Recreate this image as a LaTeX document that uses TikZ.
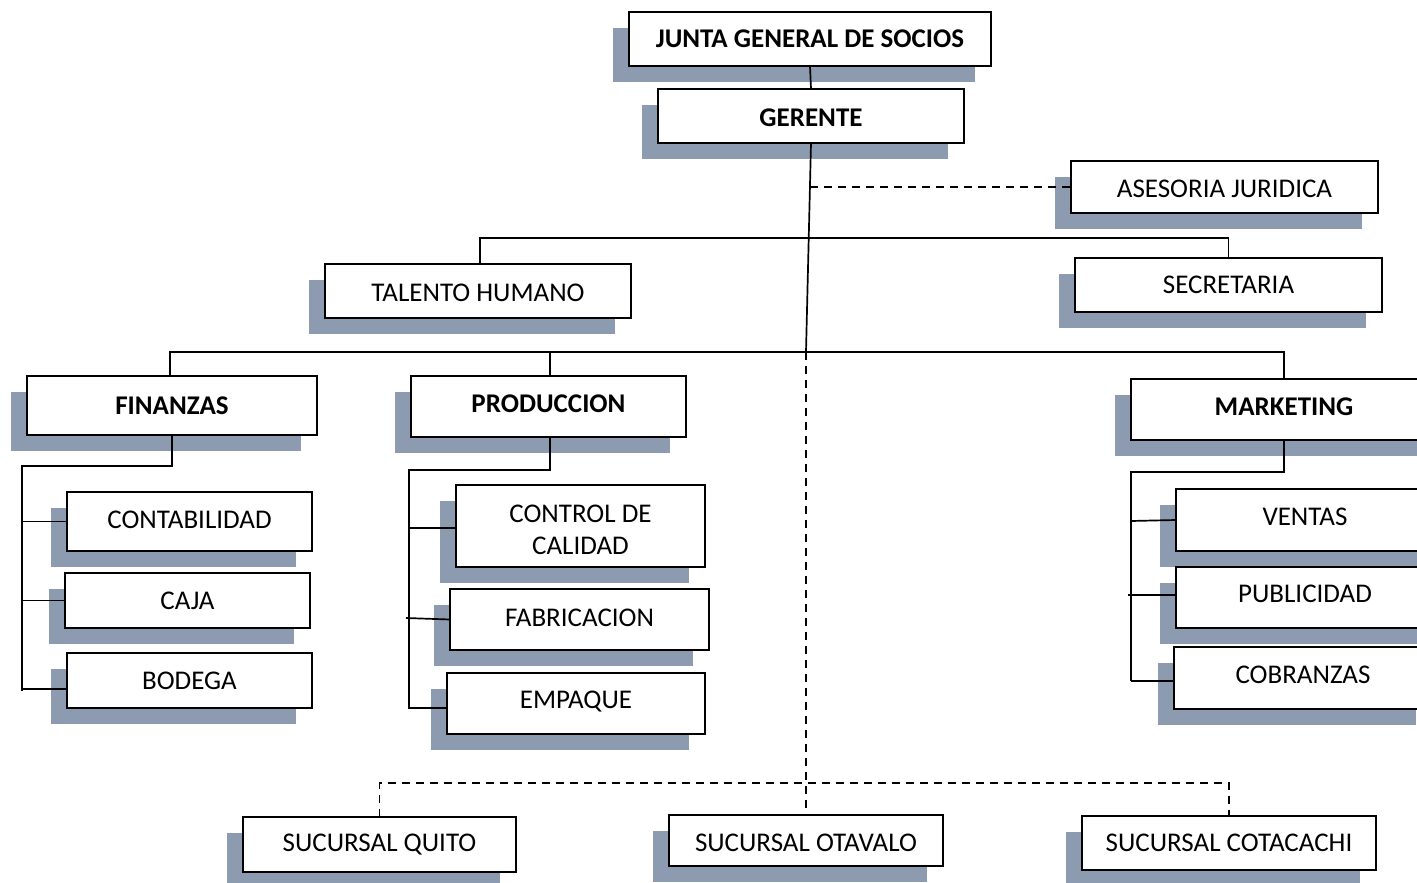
\documentclass[tikz,border=0pt]{standalone}
\usepackage{fontspec}
\setmainfont{Carlito}
\usetikzlibrary{shadows}
\definecolor{shadowc}{RGB}{141,155,176}
% move a label up or down inside its box without changing the box size
\newcommand\txtshift[2]{\raisebox{#1}[\height][\depth]{#2}}
\tikzset{
  box/.style={draw, line width=1.8pt, fill=white, inner sep=0pt, outer sep=0pt,
    align=center, font=\fontsize{27}{32}\selectfont,
    general shadow={fill=shadowc, draw=none, shadow xshift=-16pt, shadow yshift=-16pt}},
  head/.style={box, font=\fontsize{27}{32}\selectfont\bfseries},
  link/.style={line width=1.7pt},
  dashlink/.style={line width=1.7pt, dash pattern=on 8pt off 6pt},
}
\begin{document}
\begin{tikzpicture}[x=1pt, y=-1pt]
\useasboundingbox (0,0) rectangle (1417,883);
\clip (0,0) rectangle (1417,883);

% top of the hierarchy
\node[head, minimum width=362pt, minimum height=54pt] (junta) at (810,39) {JUNTA GENERAL DE SOCIOS};
\node[head, minimum width=306pt, minimum height=54pt] (gerente) at (811,116) {\txtshift{-1.5pt}{GERENTE}};
\node[box, minimum width=307pt, minimum height=52pt] (asesoria) at (1224.5,187) {\txtshift{-2pt}{ASESORIA JURIDICA}};
\node[box, minimum width=306pt, minimum height=54pt] (talento) at (478,291) {\txtshift{-1.5pt}{TALENTO HUMANO}};
\node[box, minimum width=307pt, minimum height=54pt] (secretaria) at (1228.5,285) {SECRETARIA};

% departments
\node[head, minimum width=290pt, minimum height=59pt] (finanzas) at (172,405.5) {FINANZAS};
\node[head, minimum width=275pt, minimum height=61pt] (produccion) at (548.5,406.5) {\txtshift{2.5pt}{PRODUCCION}};
\node[head, minimum width=306pt, minimum height=61pt] (marketing) at (1284,409.5) {\txtshift{3pt}{MARKETING}};

% finance units
\node[box, minimum width=245pt, minimum height=59pt] (contabilidad) at (189.5,521.5) {\txtshift{1.5pt}{CONTABILIDAD}};
\node[box, minimum width=245pt, minimum height=55pt] (caja) at (187.5,600.5) {CAJA};
\node[box, minimum width=245pt, minimum height=55pt] (bodega) at (189.5,680.5) {BODEGA};

% production units
\node[box, minimum width=249pt, minimum height=82pt] (control) at (580.5,526)
  {\txtshift{-6pt}{\begin{tabular}{@{}c@{}}CONTROL DE\\CALIDAD\end{tabular}}};
\node[box, minimum width=259pt, minimum height=61pt] (fabricacion) at (579.5,619.5) {\txtshift{1.5pt}{FABRICACION}};
\node[box, minimum width=258pt, minimum height=61pt] (empaque) at (576,703.5) {\txtshift{1.5pt}{EMPAQUE}};

% marketing units
\node[box, minimum width=258pt, minimum height=62pt] (ventas) at (1305,520) {\txtshift{3.5pt}{VENTAS}};
\node[box, minimum width=258pt, minimum height=61pt] (publicidad) at (1305,597.5) {\txtshift{3.5pt}{PUBLICIDAD}};
\node[box, minimum width=258pt, minimum height=62pt] (cobranzas) at (1303,678) {\txtshift{3pt}{COBRANZAS}};

% branches
\node[box, minimum width=273pt, minimum height=55pt] (quito) at (379.5,844.5) {SUCURSAL QUITO};
\node[box, minimum width=274pt, minimum height=51pt] (otavalo) at (806,840.5) {\txtshift{-2.5pt}{SUCURSAL OTAVALO}};
\node[box, minimum width=294pt, minimum height=54pt] (cotacachi) at (1229,843) {SUCURSAL COTACACHI};

% main trunk
\coordinate (hub) at (806,352);
\coordinate (aj) at (810,187);
\draw[link] (junta.south) -- (gerente.north);
\draw[link] (gerente.south) -- (hub);
\draw[dashlink] (aj) -- (asesoria.west);
\draw[link] ([xshift=2pt]talento.north) -- ++(0,-26) -| (secretaria.north);
\draw[link] ([xshift=-2pt]finanzas.north) -- ++(0,-24) -| (marketing.north);
\draw[link] ([xshift=1.5pt]produccion.north) -- ++(0,-24);

% finance bus
\coordinate (fb) at (22,466);
\draw[link] (finanzas.south) |- (fb) -- (22,691);
\draw[link] (22,521.5) -- (contabilidad.west);
\draw[link] (22,600.5) -- (caja.west);
\draw[link] (22,689) -- ([yshift=-8.5pt]bodega.west);

% production bus
\coordinate (pb) at (409,470);
\draw[link] ([xshift=1.5pt]produccion.south) |- (pb) -- (409,709);
\draw[link] (409,528) -- ([yshift=-2pt]control.west);
\draw[link] (406,618) -- (fabricacion.west);
\draw[link] (409,708) -- ([yshift=-4.5pt]empaque.west);

% marketing bus
\coordinate (mb) at (1131,472);
\draw[link] (marketing.south) |- (mb) -- (1131,681);
\draw[link] (1131,521) -- (ventas.west);
\draw[link] (1128,595) -- ([yshift=2.5pt]publicidad.west);
\draw[link] (1131,681) -- ([yshift=-3pt]cobranzas.west);

% branch offices
\draw[dashlink] (hub) -- (otavalo.north);
\draw[dashlink] (quito.north) -- ++(0,-34) -| (cotacachi.north);
\end{tikzpicture}
\end{document}
